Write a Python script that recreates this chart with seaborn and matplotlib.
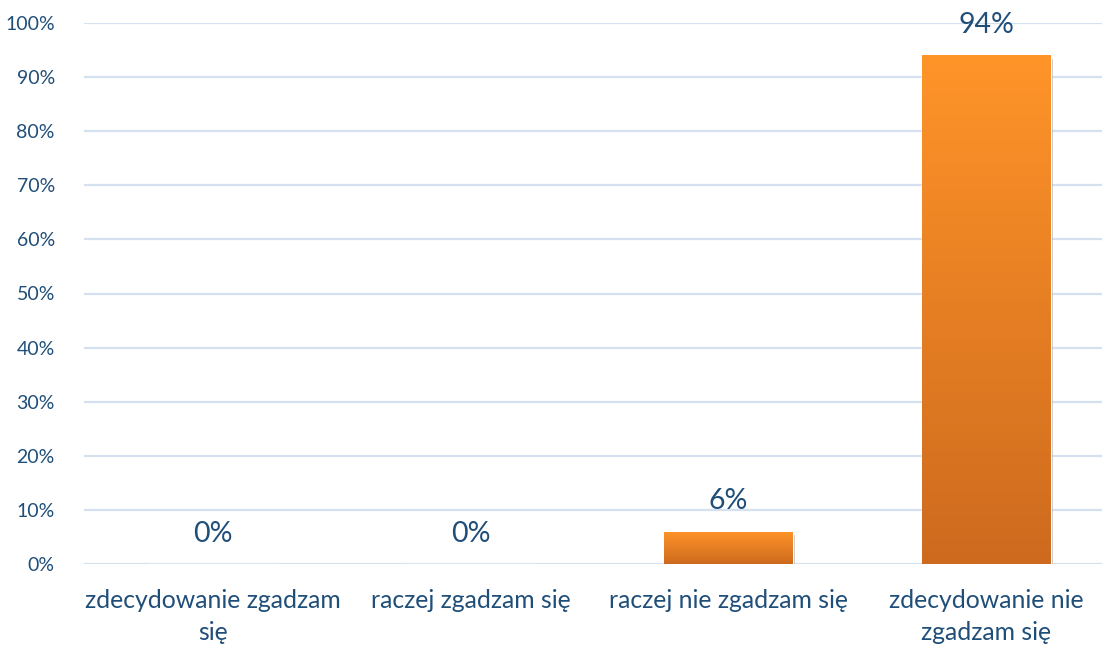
import matplotlib
matplotlib.use("Agg")
import matplotlib.pyplot as plt
import matplotlib.patheffects as pe
from matplotlib.colors import LinearSegmentedColormap
import numpy as np
import pandas as pd
import seaborn as sns

categories = ["zdecydowanie zgadzam\nsię", "raczej zgadzam się", "raczej nie zgadzam się", "zdecydowanie nie\nzgadzam się"]
values = [0, 0, 6, 94]
labels = ["0%", "0%", "6%", "94%"]
yticks = [0, 10, 20, 30, 40, 50, 60, 70, 80, 90, 100]

sns.set_theme(style="white")
plt.rcParams['font.family'] = ['Lato', 'DejaVu Sans']

text_color = "#1F4E79"
grid_color = "#D5E1F0"

fig = plt.figure(figsize=(11.02, 6.46), dpi=100)
ax = fig.add_axes([84/1102, (646-564)/646, (1115-84)/1102, (564-23)/646])

df = pd.DataFrame({"cat": categories, "val": values})
sns.barplot(data=df, x="cat", y="val", ax=ax, color="#F58A26", width=0.5, saturation=1)

ax.set_ylim(0, 100)
ax.set_xlim(-0.5, 3.5)
ax.set_yticks(yticks)
ax.set_yticklabels([f"{t}%" for t in yticks])
ax.set_xlabel("")
ax.set_ylabel("")
ax.grid(axis="y", color=grid_color, linewidth=1.6)
ax.set_axisbelow(True)
for s in ax.spines.values():
    s.set_visible(False)
ax.tick_params(axis="y", length=0, pad=21, labelsize=14, labelcolor=text_color)
ax.tick_params(axis="x", length=0, pad=18, labelsize=17.8, labelcolor=text_color)
for t in ax.get_xticklabels():
    t.set_linespacing(1.45)

cmap = LinearSegmentedColormap.from_list("g", ["#CD6A1E", "#FF9429"])
grad = np.linspace(0, 1, 256).reshape(-1, 1)
for p in ax.patches:
    h = p.get_height()
    if h <= 0:
        continue
    x0 = p.get_x(); w = p.get_width()
    p.set_path_effects([pe.SimplePatchShadow(offset=(1.5, -2.5), shadow_rgbFace="#888888", alpha=0.5), pe.Normal()])
    im = ax.imshow(grad, extent=[x0, x0 + w, 0, h], origin="lower", cmap=cmap,
                   aspect="auto", zorder=p.get_zorder() + 0.1)
    im.set_clip_path(p)

for i, (v, l) in enumerate(zip(values, labels)):
    ax.text(i, v + 3.2, l, ha="center", va="bottom", fontsize=20.5, color=text_color)

ax.set_xlim(-0.5, 3.5)
ax.set_ylim(0, 100)
fig.savefig("out.png", dpi=100)
